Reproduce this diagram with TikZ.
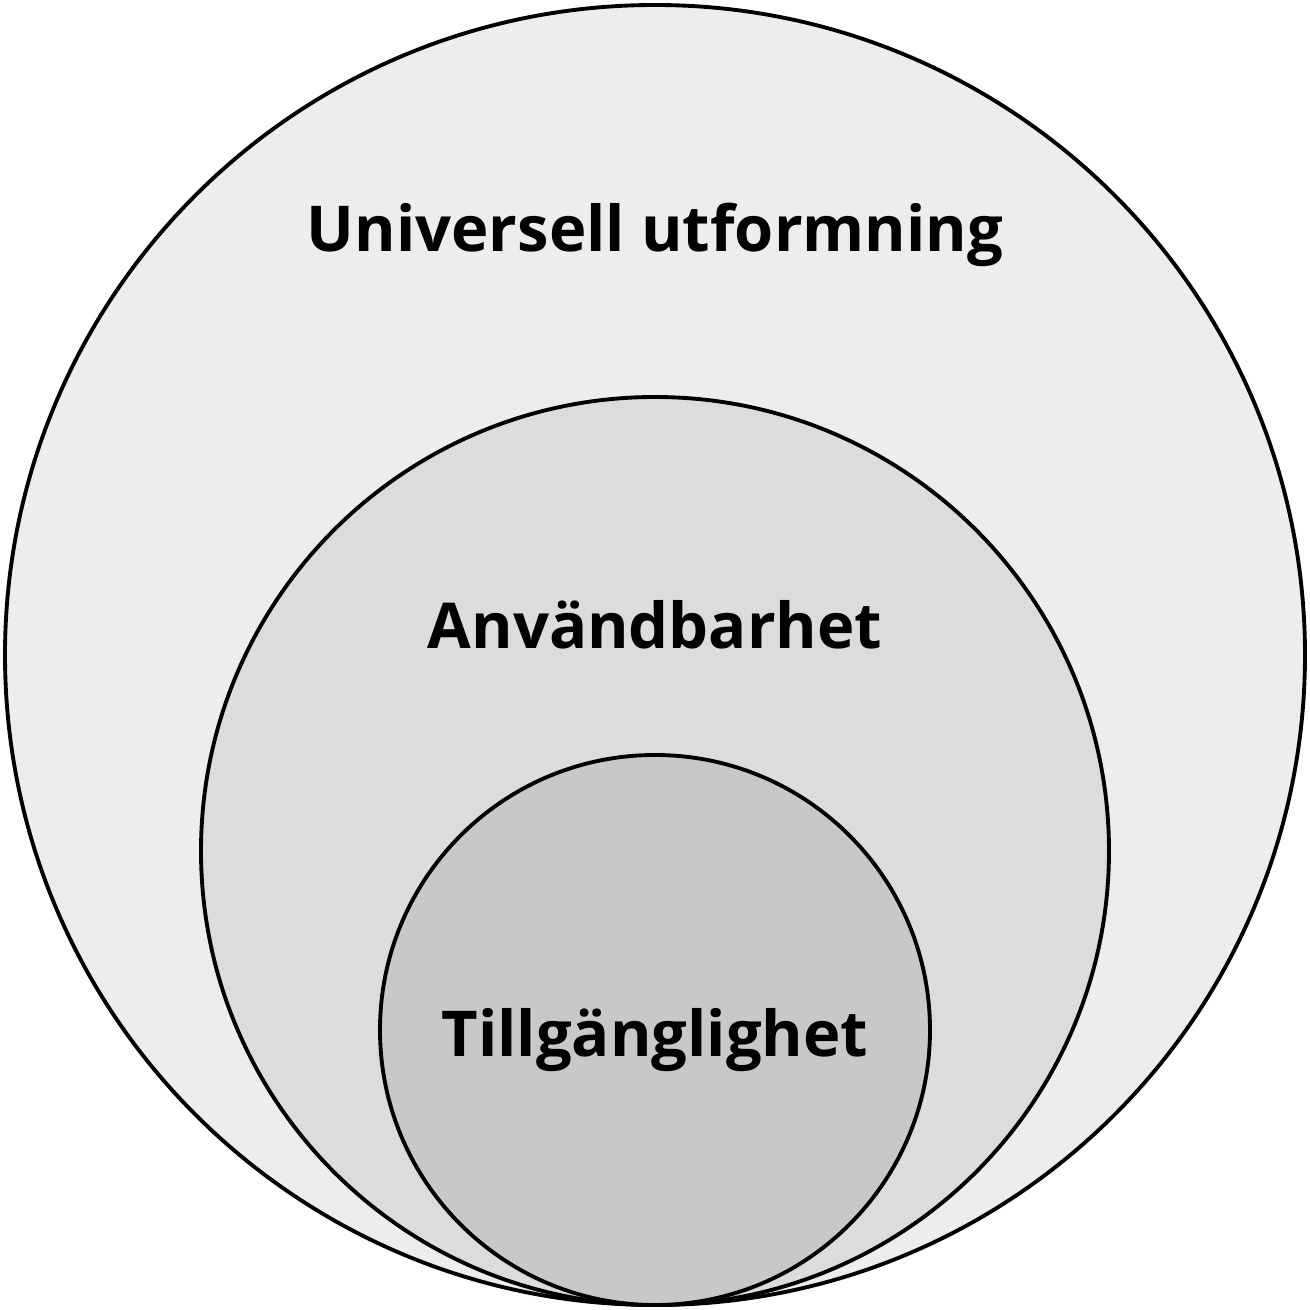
\documentclass[tikz,border=0pt]{standalone}
\usepackage{fontspec}
\setmainfont{Open Sans}
\definecolor{outerfill}{HTML}{EDEDED}
\definecolor{midfill}{HTML}{DCDCDC}
\definecolor{innerfill}{HTML}{C8C8C8}
\begin{document}
\begin{tikzpicture}
  [ring/.style={circle, draw=black, line width=1.1pt, inner sep=0pt},
   label/.style={font=\fontsize{18}{22}\selectfont\bfseries, inner sep=0pt}]
  \useasboundingbox (0,0) rectangle (13.1,13.1);
  \node[ring, fill=outerfill, minimum size=13cm] (outer) at (6.55,6.55) {};
  \node[ring, fill=midfill, minimum size=9.08cm] (mid) at (6.55,4.59) {};
  \node[ring, fill=innerfill, minimum size=5.5cm] (inner) at (6.55,2.80) {};
  \node[label] (universell) at (6.55,10.75) {Universell utformning};
  \node[label] (anvandbarhet) at (6.55,6.85) {Användbarhet};
  \node[label] (tillganglighet) at (6.55,2.70) {Tillgänglighet};
\end{tikzpicture}
\end{document}
